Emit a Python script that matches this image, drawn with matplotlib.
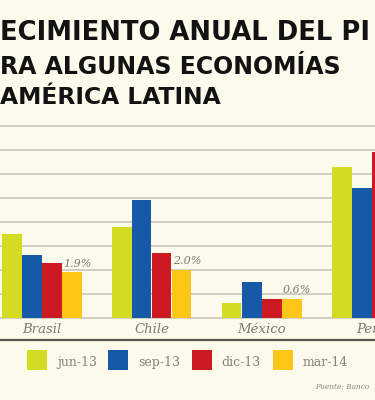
import matplotlib
matplotlib.use("Agg")
import matplotlib.pyplot as plt
from matplotlib.patches import Rectangle
from matplotlib.lines import Line2D
import numpy as np

# ---- data ----
categories = ["Brasil", "Chile", "México", "Perú"]
series_names = ["jun-13", "sep-13", "dic-13", "mar-14"]
jun13 = [3.5, 3.8, 0.6, 6.3]
sep13 = [2.6, 4.9, 1.5, 5.4]
dic13 = [2.3, 2.7, 0.8, 6.9]
mar14 = [1.9, 2.0, 0.8, np.nan]
value_labels = ["1.9%", "2.0%", "0.6%", ""]
title_lines = ["ECIMIENTO ANUAL DEL PI", "RA ALGUNAS ECONOMÍAS", "AMÉRICA LATINA"]
source_text = "Fuente: Banco"

colors = ["#D4DC22", "#1659A9", "#CC1922", "#FFC618"]
bg = "#FCFAEA"
grid_c = "#CDCABB"
text_gray = "#7C7B76"

W, H = 375, 400
fig = plt.figure(figsize=(W / 100, H / 100), dpi=100, facecolor=bg)

def fy(px):
    return 1 - px / H

def fx(px):
    return px / W

# axes: baseline at y=317.7px, 8% at y=126px
y_base, y_top = 317.7, 126.0
ax = fig.add_axes([0, fy(y_base), 1, (y_base - y_top) / H])
ax.set_facecolor("none")
ax.set_ylim(0, 8)
period = 110.0
center0 = 41.7
ax.set_xlim(-center0 / period, (W - center0) / period)
for s in ax.spines.values():
    s.set_visible(False)
ax.set_yticks([])

for k in range(0, 9):
    ax.axhline(k, color=grid_c, lw=1.3, zorder=1, clip_on=False)

bw = 19.6 / period
x = np.arange(len(categories))
all_series = [jun13, sep13, dic13, mar14]
for j, (vals, c) in enumerate(zip(all_series, colors)):
    ax.bar(x + (j - 1.5) * (20 / period), vals, width=bw, color=c, zorder=2,
           linewidth=0)

serif = ["DejaVu Serif"]
for i, lab in enumerate(value_labels):
    if lab:
        ax.annotate(lab, (x[i] + 1.5 * (20 / period), mar14[i]),
                    xytext=(4, 2.5), textcoords="offset points",
                    ha="center", va="bottom", fontsize=8, style="italic",
                    color=text_gray, family=serif)

ax.set_xticks(x)
ax.set_xticklabels(categories, fontsize=9.5, style="italic", color=text_gray,
                   family=serif)
ax.tick_params(axis="x", length=0, pad=4)

# dark separator line
fig.add_artist(Line2D([0, 1], [fy(339.5), fy(339.5)], color="#55544F", lw=1.6,
                      transform=fig.transFigure))

# legend
sq_x = [26.7, 107.7, 192.0, 272.7]
tx_x = [56.7, 138.3, 221.7, 302.7]
for name, c, sx, tx in zip(series_names, colors, sq_x, tx_x):
    fig.add_artist(Rectangle((fx(sx), fy(369.5)), 20 / W, 19.5 / H,
                             transform=fig.transFigure, color=c, lw=0))
    fig.text(fx(tx), fy(366), name, fontsize=9, color="#85847F",
             family=serif, va="baseline", ha="left")

fig.text(fx(315), fy(389), source_text, fontsize=5.3, style="italic",
         color="#8A8984", family=serif, va="baseline", ha="left")

# title
title_font = ["DejaVu Sans"]
for line, yb, fs in zip(title_lines, [40.0, 74.5, 104.5], [18.6, 17.0, 16.8]):
    fig.text(0, fy(yb), line, fontsize=fs, fontweight="bold", color="#121212",
             family=title_font, va="baseline", ha="left")

fig.savefig("out.png", dpi=100, facecolor=bg)
